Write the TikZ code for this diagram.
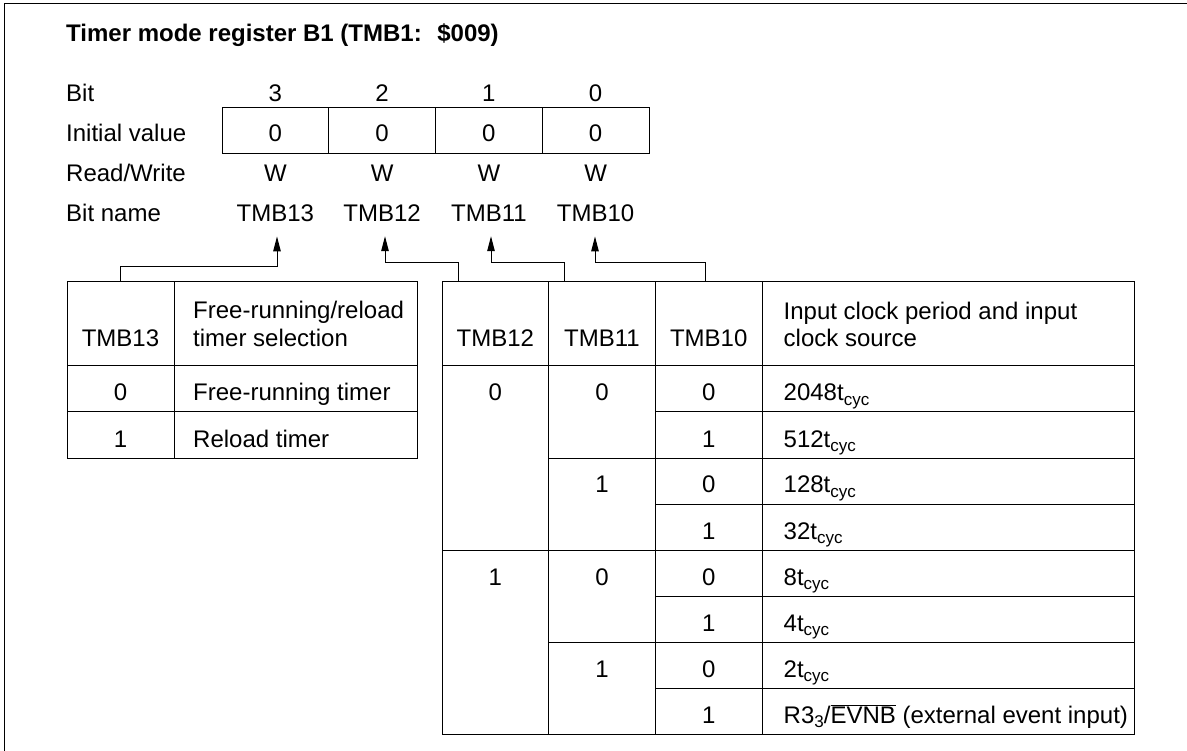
\documentclass[tikz,border=0pt]{standalone}
\usepackage{fontspec}
\setmainfont{Liberation Sans}
\usetikzlibrary{arrows.meta}
\newcommand{\tcyc}{\raisebox{-4.5pt}{\fontsize{17}{17}\selectfont cyc}}
\newcommand{\subthree}{\raisebox{-4.5pt}{\fontsize{17}{17}\selectfont 3}}
\newcommand{\ovl}[1]{$\overline{\hbox{#1}}$}
\begin{document}
\begin{tikzpicture}[x=1pt,y=-1pt,
  txt/.style={inner sep=0pt, anchor=base, font=\fontsize{24}{28}\selectfont},
  txtl/.style={txt, anchor=base west},
  ln/.style={line width=1pt, draw=black},
  arr/.style={ln, -{Triangle[length=15pt,width=7.5pt]}},
  bname/.style={txt, inner ysep=14pt},
]
\useasboundingbox (0,0) rectangle (1187,751);
% frame
\draw[ln] (1190,3.5) -- (4,3.5) -- (4,754);

% title
\node[txtl, font=\fontsize{24}{28}\selectfont\bfseries] (title) at (66,42) {Timer mode register B1 (TMB1: \ \$009)};

% row labels
\node[txtl] (lbit) at (66,101.7) {Bit};
\node[txtl] (linit) at (66,141.3) {Initial value};
\node[txtl] (lrw) at (66,182) {Read/Write};
\node[txtl] (lname) at (66,222) {Bit name};

% register box
\draw[ln] (222,108) rectangle (649,154);
\draw[ln] (328.75,108) -- (328.75,154);
\draw[ln] (435.5,108) -- (435.5,154);
\draw[ln] (542.25,108) -- (542.25,154);

\node[txt] (b3) at (275.4,101.7) {3};
\node[txt] (b2) at (382.1,101.7) {2};
\node[txt] (b1) at (488.9,101.7) {1};
\node[txt] (b0) at (595.6,101.7) {0};

\node[txt] (i3) at (275.4,141.3) {0};
\node[txt] (i2) at (382.1,141.3) {0};
\node[txt] (i1) at (488.9,141.3) {0};
\node[txt] (i0) at (595.6,141.3) {0};

\node[txt] (w3) at (275.4,182) {W};
\node[txt] (w2) at (382.1,182) {W};
\node[txt] (w1) at (488.9,182) {W};
\node[txt] (w0) at (595.6,182) {W};

\node[bname] (bn13) at (275.4,222) {TMB13};
\node[bname] (bn12) at (382.1,222) {TMB12};
\node[bname] (bn11) at (488.9,222) {TMB11};
\node[bname] (bn10) at (595.6,222) {TMB10};

% left table
\draw[ln] (67,282) rectangle (417,458);
\draw[ln] (174,282) -- (174,458);
\draw[ln] (67,366) -- (417,366);
\draw[ln] (67,412) -- (417,412);

\node[txt] (lh1) at (120.5,347) {TMB13};
\node[txtl] (lh2a) at (193,319) {Free-running/reload};
\node[txtl] (lh2b) at (193,347) {timer selection};
\node[txt] (lr1a) at (120.5,401) {0};
\node[txtl] (lr1b) at (193,401) {Free-running timer};
\node[txt] (lr2a) at (120.5,447) {1};
\node[txtl] (lr2b) at (193,447) {Reload timer};

% right table
\draw[ln] (442,282) rectangle (1134,734);
\draw[ln] (548.7,282) -- (548.7,734);
\draw[ln] (655.3,282) -- (655.3,734);
\draw[ln] (762,282) -- (762,734);
\draw[ln] (442,366) -- (1134,366);
\draw[ln] (442,550) -- (1134,550);
\foreach \yy in {458,642} \draw[ln] (548.7,\yy) -- (1134,\yy);
\foreach \yy in {412,504,596,688} \draw[ln] (655.3,\yy) -- (1134,\yy);

\node[txt] (rh12) at (495.3,347) {TMB12};
\node[txt] (rh11) at (602,347) {TMB11};
\node[txt] (rh10) at (708.7,347) {TMB10};
\node[txtl] (rhda) at (783.5,320) {Input clock period and input};
\node[txtl] (rhdb) at (783.5,347) {clock source};

\node[txt] (c12a) at (495.3,401) {0};
\node[txt] (c12b) at (495.3,585) {1};
\node[txt] (c11a) at (602,401) {0};
\node[txt] (c11b) at (602,493) {1};
\node[txt] (c11c) at (602,585) {0};
\node[txt] (c11d) at (602,677) {1};

\node[txt] (c10a) at (708.7,401) {0};
\node[txt] (c10b) at (708.7,447) {1};
\node[txt] (c10c) at (708.7,493) {0};
\node[txt] (c10d) at (708.7,539) {1};
\node[txt] (c10e) at (708.7,585) {0};
\node[txt] (c10f) at (708.7,631) {1};
\node[txt] (c10g) at (708.7,677) {0};
\node[txt] (c10h) at (708.7,723) {1};

\node[txtl] (d1) at (783.5,401) {2048t\tcyc};
\node[txtl] (d2) at (783.5,447) {512t\tcyc};
\node[txtl] (d3) at (783.5,493) {128t\tcyc};
\node[txtl] (d4) at (783.5,539) {32t\tcyc};
\node[txtl] (d5) at (783.5,585) {8t\tcyc};
\node[txtl] (d6) at (783.5,631) {4t\tcyc};
\node[txtl] (d7) at (783.5,677) {2t\tcyc};
\node[txtl] (d8) at (783.5,723) {R3\subthree/\ovl{EVNB} (external event input)};

% connectors
\coordinate (k13) at (120.5,282);
\coordinate (k12) at (458,282);
\coordinate (k11) at (564.3,282);
\coordinate (k10) at (705,282);
\draw[arr] (k13) -- ++(0,-15) -| ([xshift=1.6pt]bn13.south);
\draw[arr] (k12) -- ++(0,-19) -| ([xshift=2.9pt]bn12.south);
\draw[arr] (k11) -- ++(0,-19) -| ([xshift=2.1pt]bn11.south);
\draw[arr] (k10) -- ++(0,-19) -| ([xshift=-0.6pt]bn10.south);
\end{tikzpicture}
\end{document}
